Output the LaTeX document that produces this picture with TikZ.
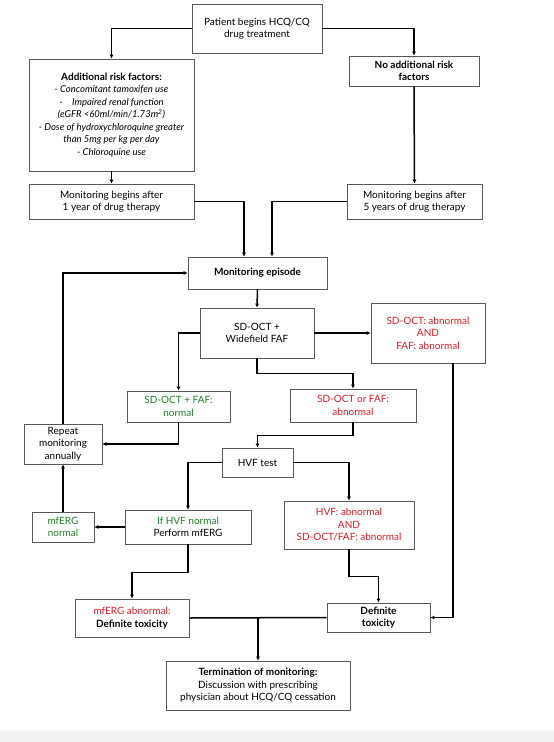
\documentclass[tikz,border=0pt]{standalone}
\usepackage{fontspec}
\setmainfont{Lato}
\usetikzlibrary{arrows.meta}
\definecolor{warnred}{RGB}{222,28,32}
\definecolor{okgreen}{RGB}{32,128,36}
\begin{document}
\begin{tikzpicture}[x=1pt,y=-1pt]
    \tikzstyle{box}=[rectangle,draw=black!65,line width=0.6pt,align=center,inner sep=2pt,
                     font=\fontsize{10}{12.5}\selectfont]
    \tikzstyle{arr}=[line width=1.5pt,-{Latex[length=4pt,width=4pt]}]
    \tikzstyle{line}=[line width=1.5pt]
    \useasboundingbox (0,0) rectangle (554,742);
    \fill[black!5] (0,731) rectangle (554,742);

    \node[box,minimum width=130pt,minimum height=49pt] (patient) at (257,28.5)
        {Patient begins HCQ/CQ\\drug treatment};
    \node[box,minimum width=165pt,minimum height=112pt,font=\fontsize{9.5}{12.5}\selectfont] (risk) at (111.5,115)
        {\textbf{\fontsize{10}{12.5}\selectfont Additional risk factors:}\\
         \textit{- Concomitant tamoxifen use}\\
         \textit{-\quad Impaired renal function}\\
         \textit{(eGFR <60ml/min/1.73m\textsuperscript{2})}\\
         \textit{- Dose of hydroxychloroquine greater}\\
         \textit{than 5mg per kg per day}\\
         \textit{- Chloroquine use}};
    \node[box,minimum width=130pt,minimum height=30pt] (noadd) at (414,71)
        {\textbf{No additional risk}\\\textbf{factors}};
    \node[box,minimum width=165pt,minimum height=35pt] (mon1) at (111.5,201.5)
        {Monitoring begins after\\1 year of drug therapy};
    \node[box,minimum width=135pt,minimum height=35pt] (mon5) at (414.5,201.5)
        {Monitoring begins after\\5 years of drug therapy};
    \node[box,minimum width=139pt,minimum height=32pt] (episode) at (257.5,273)
        {\textbf{Monitoring episode}};
    \node[box,minimum width=114pt,minimum height=50pt] (sdoct) at (257,333)
        {SD-OCT +\\Widefield FAF};
    \node[box,minimum width=114pt,minimum height=60pt,text=warnred] (both) at (428,333)
        {SD-OCT: abnormal\\AND\\FAF: abnormal};
    \node[box,minimum width=103pt,minimum height=31pt,text=okgreen] (normal) at (178.5,406.5)
        {SD-OCT + FAF:\\normal};
    \node[box,minimum width=126pt,minimum height=33pt,text=warnred] (either) at (353,405.5)
        {SD-OCT or FAF:\\abnormal};
    \node[box,minimum width=78pt,minimum height=40pt,inner sep=1pt] (repeat) at (63,444)
        {Repeat\\monitoring\\annually};
    \node[box,minimum width=71pt,minimum height=29pt] (hvf) at (257.5,462.5)
        {HVF test};
    \node[box,minimum width=62pt,minimum height=30pt,text=okgreen] (mfnorm) at (63,527)
        {mfERG\\normal};
    \node[box,minimum width=126pt,minimum height=34pt] (ifhvf) at (188,527)
        {\textcolor{okgreen}{If HVF normal}\\Perform mfERG};
    \node[box,minimum width=130pt,minimum height=48pt,text=warnred] (hvfab) at (349,525)
        {HVF: abnormal\\AND\\SD-OCT/FAF: abnormal};
    \node[box,minimum width=114pt,minimum height=38pt] (mfab) at (132,618)
        {\textcolor{warnred}{mfERG abnormal:}\\\textbf{Definite toxicity}};
    \node[box,minimum width=103pt,minimum height=29pt] (definite) at (378.5,617.5)
        {\textbf{Definite}\\\textbf{toxicity}};
    \node[box,minimum width=184pt,minimum height=49pt] (term) at (258,685.5)
        {\textbf{Termination of monitoring:}\\Discussion with prescribing\\physician about HCQ/CQ cessation};

    \draw[arr] (patient.west) -| (risk.north);
    \draw[arr] (patient.east) -| (noadd.north);
    \draw[arr] (risk.south) -- (mon1.north);
    \draw[arr] (noadd.south) -- (mon5.north);
    \draw[arr] (mon1.east) -| ([xshift=-13.5pt]episode.north);
    \draw[arr] (mon5.west) -| ([xshift=14.5pt]episode.north);
    \draw[arr] (episode.south) -- (sdoct.north);
    \draw[arr] (sdoct.east) -- (both.west);
    \draw[arr] (sdoct.west) -| (normal.north);
    \draw[arr] (sdoct.south) -- ++(0,15) -| (either.north);
    \draw[arr] (normal.south) |- (repeat.east);
    \draw[arr] (either.south) -- ++(0,13) -| (hvf.north);
    \draw[arr] (hvf.west) -| (ifhvf.north);
    \draw[arr] (hvf.east) -| (hvfab.north);
    \draw[arr] (ifhvf.west) -- (mfnorm.east);
    \draw[arr] (mfnorm.north) -- (repeat.south);
    \draw[arr] (repeat.north) |- (episode.west);
    \draw[arr] (ifhvf.south) -- ++(0,28) -| (mfab.north);
    \draw[arr] (hvfab.south) -- ++(0,27) -| (definite.north);
    \draw[arr] ([xshift=25pt]both.south) |- (definite.east);
    \draw[line] (mfab.east) -- (definite.west);
    \draw[arr] (mfab.east -| term.north) -- (term.north);

\end{tikzpicture}
\end{document}
